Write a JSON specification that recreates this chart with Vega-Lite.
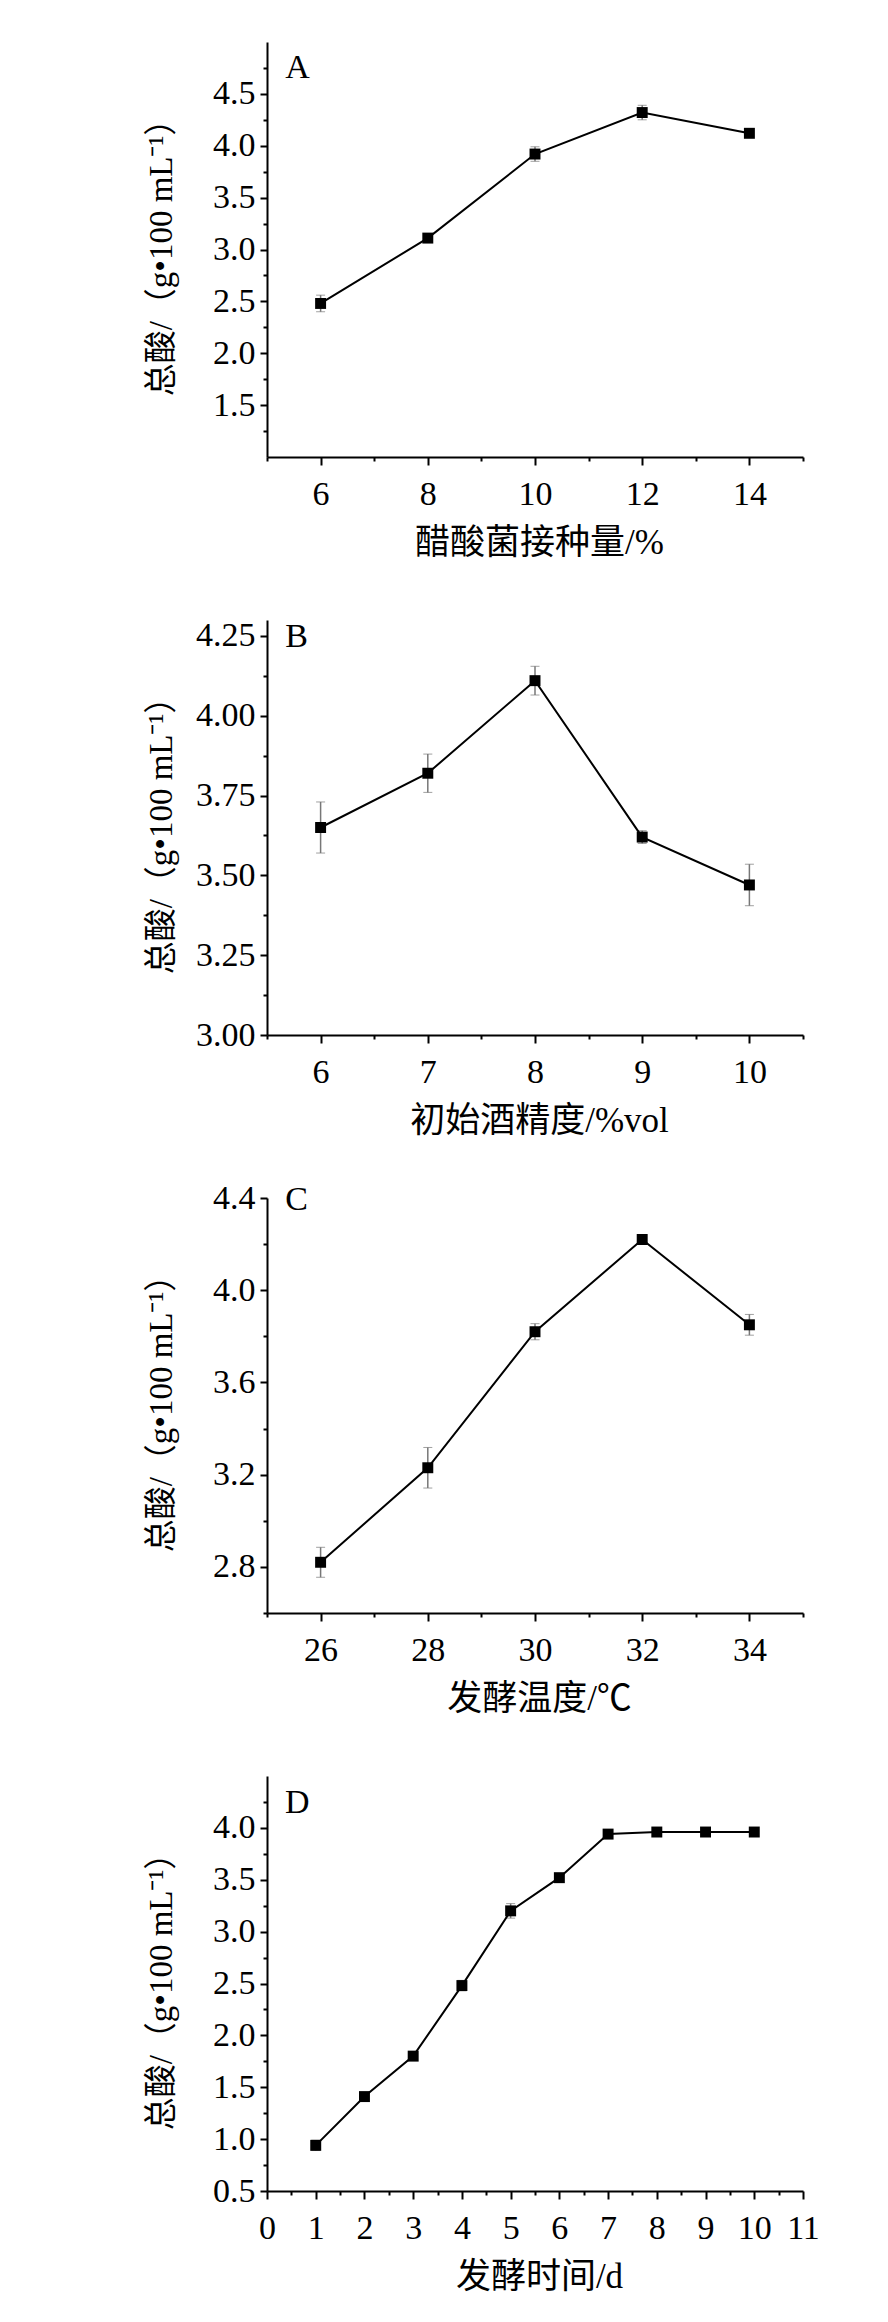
{
  "$schema": "https://vega.github.io/schema/vega-lite/v6.json",
  "padding": {"left": 144, "top": 42, "right": 5, "bottom": 5},
  "spacing": 163,
  "bounds": "flush",
  "config": {
    "view": {"stroke": null},
    "font": "Liberation Serif",
    "axis": {
      "grid": false,
      "domainColor": "black",
      "domainWidth": 2,
      "tickColor": "black",
      "tickWidth": 2,
      "labelFont": "Liberation Serif",
      "labelFontSize": 34,
      "labelColor": "black",
      "labelOverlap": false,
      "labelFlush": false,
      "titleFont": "Liberation Serif, Noto Sans CJK SC",
      "titleFontWeight": "normal",
      "titleColor": "black"
    },
    "axisX": {"tickSize": 8, "labelPadding": 12, "titleX": 272, "titleY": 85, "titleAlign": "center", "titleBaseline": "middle", "titleAngle": 0, "titleFontSize": 35},
    "axisY": {"tickSize": 7, "labelPadding": 5, "titleX": -96, "titleY": 207, "titleAlign": "center", "titleBaseline": "alphabetic", "titleAngle": -90, "titleFontSize": 33},
    "text": {"font": "Liberation Serif", "fontSize": 34, "fontWeight": "normal", "color": "black", "align": "left", "baseline": "alphabetic"}
  },
  "vconcat": [
    {
      "width": 536, "height": 415,
      "data": {"values": [
        {"x": 6, "y": 2.48, "e": 0.08},
        {"x": 8, "y": 3.11, "e": 0.04},
        {"x": 10, "y": 3.92, "e": 0.07},
        {"x": 12, "y": 4.32, "e": 0.07},
        {"x": 14, "y": 4.12, "e": 0.02}
      ]},
      "resolve": {"axis": {"x": "independent", "y": "independent"}},
      "layer": [
        {
          "mark": {"type": "errorbar", "ticks": {"size": 9, "color": "#777", "strokeWidth": 1.5}, "rule": {"color": "#777", "strokeWidth": 1.5}},
          "encoding": {
            "x": {"field": "x", "type": "quantitative", "scale": {"domain": [5, 15]}, "axis": {"orient": "bottom", "values": [5, 7, 9, 11, 13, 15], "labels": false, "domain": false, "tickSize": 4, "title": null}},
            "y": {"field": "y", "type": "quantitative", "scale": {"domain": [1.25, 4.75]}, "axis": {"orient": "left", "values": [1.25, 1.75, 2.25, 2.75, 3.25, 3.75, 4.25, 4.75], "labels": false, "domain": false, "tickSize": 4, "title": null}},
            "yError": {"field": "e"}
          }
        },
        {
          "mark": {"type": "line", "color": "black", "strokeWidth": 2},
          "encoding": {
            "x": {"field": "x", "type": "quantitative", "axis": {"orient": "bottom", "values": [6, 8, 10, 12, 14], "format": "d", "title": "醋酸菌接种量/%"}},
            "y": {"field": "y", "type": "quantitative", "axis": {"orient": "left", "values": [1.5, 2.0, 2.5, 3.0, 3.5, 4.0, 4.5], "format": ".1f", "title": "总酸/（g•100 mL⁻¹）"}}
          }
        },
        {
          "mark": {"type": "square", "size": 120, "color": "black", "opacity": 1},
          "encoding": {
            "x": {"field": "x", "type": "quantitative", "axis": null},
            "y": {"field": "y", "type": "quantitative", "axis": null}
          }
        },
        {
          "data": {"values": [{"panel": "A"}]},
          "mark": {"type": "text", "fontWeight": "normal"},
          "encoding": {
            "text": {"field": "panel"},
            "x": {"datum": 5.34, "type": "quantitative", "axis": null},
            "y": {"datum": 4.65, "type": "quantitative", "axis": null}
          }
        }
      ]
    },
    {
      "width": 536, "height": 415,
      "data": {"values": [
        {"x": 6, "y": 3.65, "e": 0.08},
        {"x": 7, "y": 3.82, "e": 0.06},
        {"x": 8, "y": 4.11, "e": 0.045},
        {"x": 9, "y": 3.62, "e": 0.02},
        {"x": 10, "y": 3.47, "e": 0.065}
      ]},
      "resolve": {"axis": {"x": "independent", "y": "independent"}},
      "layer": [
        {
          "mark": {"type": "errorbar", "ticks": {"size": 9, "color": "#777", "strokeWidth": 1.5}, "rule": {"color": "#777", "strokeWidth": 1.5}},
          "encoding": {
            "x": {"field": "x", "type": "quantitative", "scale": {"domain": [5.5, 10.5]}, "axis": {"orient": "bottom", "values": [5.5, 6.5, 7.5, 8.5, 9.5, 10.5], "labels": false, "domain": false, "tickSize": 4, "title": null}},
            "y": {"field": "y", "type": "quantitative", "scale": {"domain": [3.0, 4.25]}, "axis": {"orient": "left", "values": [3.125, 3.375, 3.625, 3.875, 4.125], "labels": false, "domain": false, "tickSize": 4, "title": null}},
            "yError": {"field": "e"}
          }
        },
        {
          "mark": {"type": "line", "color": "black", "strokeWidth": 2},
          "encoding": {
            "x": {"field": "x", "type": "quantitative", "axis": {"orient": "bottom", "values": [6, 7, 8, 9, 10], "format": "d", "title": "初始酒精度/%vol"}},
            "y": {"field": "y", "type": "quantitative", "axis": {"orient": "left", "values": [3.0, 3.25, 3.5, 3.75, 4.0, 4.25], "format": ".2f", "title": "总酸/（g•100 mL⁻¹）"}}
          }
        },
        {
          "mark": {"type": "square", "size": 120, "color": "black", "opacity": 1},
          "encoding": {
            "x": {"field": "x", "type": "quantitative", "axis": null},
            "y": {"field": "y", "type": "quantitative", "axis": null}
          }
        },
        {
          "data": {"values": [{"panel": "B"}]},
          "mark": {"type": "text", "fontWeight": "normal"},
          "encoding": {
            "text": {"field": "panel"},
            "x": {"datum": 5.67, "type": "quantitative", "axis": null},
            "y": {"datum": 4.214, "type": "quantitative", "axis": null}
          }
        }
      ]
    },
    {
      "width": 536, "height": 415,
      "data": {"values": [
        {"x": 26, "y": 2.82, "e": 0.065},
        {"x": 28, "y": 3.23, "e": 0.088},
        {"x": 30, "y": 3.82, "e": 0.035},
        {"x": 32, "y": 4.22, "e": 0.02},
        {"x": 34, "y": 3.85, "e": 0.045}
      ]},
      "resolve": {"axis": {"x": "independent", "y": "independent"}},
      "layer": [
        {
          "mark": {"type": "errorbar", "ticks": {"size": 9, "color": "#777", "strokeWidth": 1.5}, "rule": {"color": "#777", "strokeWidth": 1.5}},
          "encoding": {
            "x": {"field": "x", "type": "quantitative", "scale": {"domain": [25, 35]}, "axis": {"orient": "bottom", "values": [25, 27, 29, 31, 33, 35], "labels": false, "domain": false, "tickSize": 4, "title": null}},
            "y": {"field": "y", "type": "quantitative", "scale": {"domain": [2.6, 4.4]}, "axis": {"orient": "left", "values": [2.6, 3.0, 3.4, 3.8, 4.2], "labels": false, "domain": false, "tickSize": 4, "title": null}},
            "yError": {"field": "e"}
          }
        },
        {
          "mark": {"type": "line", "color": "black", "strokeWidth": 2},
          "encoding": {
            "x": {"field": "x", "type": "quantitative", "axis": {"orient": "bottom", "values": [26, 28, 30, 32, 34], "format": "d", "title": "发酵温度/℃"}},
            "y": {"field": "y", "type": "quantitative", "axis": {"orient": "left", "values": [2.8, 3.2, 3.6, 4.0, 4.4], "format": ".1f", "title": "总酸/（g•100 mL⁻¹）"}}
          }
        },
        {
          "mark": {"type": "square", "size": 120, "color": "black", "opacity": 1},
          "encoding": {
            "x": {"field": "x", "type": "quantitative", "axis": null},
            "y": {"field": "y", "type": "quantitative", "axis": null}
          }
        },
        {
          "data": {"values": [{"panel": "C"}]},
          "mark": {"type": "text", "fontWeight": "normal"},
          "encoding": {
            "text": {"field": "panel"},
            "x": {"datum": 25.34, "type": "quantitative", "axis": null},
            "y": {"datum": 4.348, "type": "quantitative", "axis": null}
          }
        }
      ]
    },
    {
      "width": 536, "height": 415,
      "data": {"values": [
        {"x": 1, "y": 0.94, "e": 0.05},
        {"x": 2, "y": 1.41, "e": 0.03},
        {"x": 3, "y": 1.8, "e": 0.03},
        {"x": 4, "y": 2.48, "e": 0.05},
        {"x": 5, "y": 3.2, "e": 0.07},
        {"x": 6, "y": 3.52, "e": 0.02},
        {"x": 7, "y": 3.94, "e": 0.03},
        {"x": 8, "y": 3.96, "e": 0.03},
        {"x": 9, "y": 3.96, "e": 0.03},
        {"x": 10, "y": 3.96, "e": 0.02}
      ]},
      "resolve": {"axis": {"x": "independent", "y": "independent"}},
      "layer": [
        {
          "mark": {"type": "errorbar", "ticks": {"size": 9, "color": "#777", "strokeWidth": 1.5}, "rule": {"color": "#777", "strokeWidth": 1.5}},
          "encoding": {
            "x": {"field": "x", "type": "quantitative", "scale": {"domain": [0, 11]}, "axis": {"orient": "bottom", "values": [0.5, 1.5, 2.5, 3.5, 4.5, 5.5, 6.5, 7.5, 8.5, 9.5, 10.5], "labels": false, "domain": false, "tickSize": 4, "title": null}},
            "y": {"field": "y", "type": "quantitative", "scale": {"domain": [0.5, 4.25]}, "axis": {"orient": "left", "values": [0.75, 1.25, 1.75, 2.25, 2.75, 3.25, 3.75, 4.25], "labels": false, "domain": false, "tickSize": 4, "title": null}},
            "yError": {"field": "e"}
          }
        },
        {
          "mark": {"type": "line", "color": "black", "strokeWidth": 2},
          "encoding": {
            "x": {"field": "x", "type": "quantitative", "axis": {"orient": "bottom", "values": [0, 1, 2, 3, 4, 5, 6, 7, 8, 9, 10, 11], "format": "d", "title": "发酵时间/d"}},
            "y": {"field": "y", "type": "quantitative", "axis": {"orient": "left", "values": [0.5, 1.0, 1.5, 2.0, 2.5, 3.0, 3.5, 4.0], "format": ".1f", "title": "总酸/（g•100 mL⁻¹）"}}
          }
        },
        {
          "mark": {"type": "square", "size": 120, "color": "black", "opacity": 1},
          "encoding": {
            "x": {"field": "x", "type": "quantitative", "axis": null},
            "y": {"field": "y", "type": "quantitative", "axis": null}
          }
        },
        {
          "data": {"values": [{"panel": "D"}]},
          "mark": {"type": "text", "fontWeight": "normal"},
          "encoding": {
            "text": {"field": "panel"},
            "x": {"datum": 0.369, "type": "quantitative", "axis": null},
            "y": {"datum": 4.142, "type": "quantitative", "axis": null}
          }
        }
      ]
    }
  ]
}
